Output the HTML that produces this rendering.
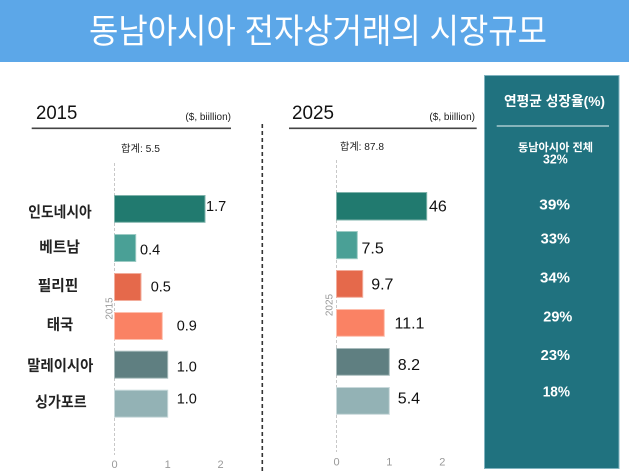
<!DOCTYPE html>
<html>
<head>
<meta charset="utf-8">
<style>
  html, body { margin:0; padding:0; background:#fff; }
  svg { display:block; }
  .k { font-family: "Liberation Sans", "Noto Sans CJK KR", sans-serif; }
  .l { font-family: "Liberation Sans", sans-serif; }
</style>
</head>
<body>
<svg width="629" height="473" viewBox="0 0 629 473" xmlns="http://www.w3.org/2000/svg">
  <rect x="0" y="0" width="629" height="473" fill="#ffffff"/>
  <!-- header -->
  <rect x="0" y="0" width="629" height="62" fill="#5ca7e8"/>
  <text class="k" x="89" y="43" font-size="34" fill="#ffffff" textLength="458" lengthAdjust="spacingAndGlyphs">동남아시아 전자상거래의 시장규모</text>

  <!-- 2015 section header -->
  <text class="l" x="36" y="119" font-size="19" fill="#111" textLength="41.3" lengthAdjust="spacingAndGlyphs">2015</text>
  <text class="l" x="231" y="120" font-size="10" fill="#222" text-anchor="end">($, biillion)</text>
  <line x1="31.7" y1="128.3" x2="231" y2="128.3" stroke="#444" stroke-width="1.6"/>

  <!-- 2025 section header -->
  <text class="l" x="292" y="119" font-size="19" fill="#111" textLength="42" lengthAdjust="spacingAndGlyphs">2025</text>
  <text class="l" x="475" y="120" font-size="10" fill="#222" text-anchor="end">($, biillion)</text>
  <line x1="289" y1="128.3" x2="476.7" y2="128.3" stroke="#444" stroke-width="1.6"/>

  <!-- divider -->
  <line x1="262.3" y1="124" x2="262.3" y2="473" stroke="#333" stroke-width="1.6" stroke-dasharray="4 3"/>

  <!-- totals -->
  <text class="k" x="121" y="152" font-size="10" fill="#222" textLength="39" lengthAdjust="spacingAndGlyphs">합계: 5.5</text>
  <text class="k" x="340" y="150" font-size="10" fill="#222" textLength="44" lengthAdjust="spacingAndGlyphs">합계: 87.8</text>

  <!-- grid lines -->
  <line x1="114.5" y1="163" x2="114.5" y2="455" stroke="#c8c8c8" stroke-width="1" stroke-dasharray="3 2"/>
  <line x1="336.5" y1="160" x2="336.5" y2="452" stroke="#c8c8c8" stroke-width="1" stroke-dasharray="3 2"/>

  <!-- category labels -->
  <g class="k" font-size="15" font-weight="bold" fill="#222">
    <text x="28.3" y="217.2" textLength="63.4" lengthAdjust="spacingAndGlyphs">인도네시아</text>
    <text x="39.3" y="252.2" textLength="40.7" lengthAdjust="spacingAndGlyphs">베트남</text>
    <text x="37.7" y="290.5" textLength="40.6" lengthAdjust="spacingAndGlyphs">필리핀</text>
    <text x="46.7" y="329.5" textLength="26.6" lengthAdjust="spacingAndGlyphs">태국</text>
    <text x="27.3" y="370.5" textLength="66" lengthAdjust="spacingAndGlyphs">말레이시아</text>
    <text x="35" y="407.2" textLength="51.7" lengthAdjust="spacingAndGlyphs">싱가포르</text>
  </g>

  <!-- left bars (2015) -->
  <g stroke-width="1">
    <rect x="114.5" y="195.5" width="90.5" height="26.8" fill="#217a6f" stroke="#7fb3ab"/>
    <rect x="114.5" y="234.5" width="21.2" height="27" fill="#4aa096" stroke="#9ccbc4"/>
    <rect x="114.5" y="273.5" width="26.5" height="27" fill="#e5694b" stroke="#f2ad9c"/>
    <rect x="114.5" y="312.5" width="47.8" height="27" fill="#fa8264" stroke="#fdbfae"/>
    <rect x="114.5" y="351.2" width="53.2" height="27" fill="#5f7f81" stroke="#a9bcbd"/>
    <rect x="114.5" y="390.2" width="53.2" height="27" fill="#93b2b5" stroke="#c9d9db"/>
  </g>

  <!-- left values -->
  <g class="l" font-size="14.5" fill="#111">
    <text x="206" y="211">1.7</text>
    <text x="140" y="254.3">0.4</text>
    <text x="150.7" y="291.7">0.5</text>
    <text x="176.7" y="330.7">0.9</text>
    <text x="176.7" y="371.7">1.0</text>
    <text x="176.7" y="403.3">1.0</text>
  </g>

  <!-- rotated year labels -->
  <text class="l" transform="translate(112.5,308.5) rotate(-90)" font-size="10" fill="#999" text-anchor="middle">2015</text>
  <text class="l" transform="translate(332.6,305) rotate(-90)" font-size="10" fill="#999" text-anchor="middle">2025</text>

  <!-- right bars (2025) -->
  <g stroke-width="1">
    <rect x="336.5" y="192.5" width="90.2" height="27.5" fill="#217a6f" stroke="#7fb3ab"/>
    <rect x="336.5" y="231.5" width="20.8" height="27.2" fill="#4aa096" stroke="#9ccbc4"/>
    <rect x="336.5" y="270.5" width="26.2" height="26.8" fill="#e5694b" stroke="#f2ad9c"/>
    <rect x="336.5" y="309.5" width="47.8" height="26.8" fill="#fa8264" stroke="#fdbfae"/>
    <rect x="336.5" y="348.5" width="52.8" height="26.8" fill="#5f7f81" stroke="#a9bcbd"/>
    <rect x="336.5" y="387.5" width="52.8" height="26.8" fill="#93b2b5" stroke="#c9d9db"/>
  </g>

  <!-- right values -->
  <g class="l" font-size="16" fill="#111">
    <text x="429" y="211.7">46</text>
    <text x="361.5" y="253.3">7.5</text>
    <text x="371.2" y="289.3">9.7</text>
    <text x="394.5" y="328.3">11.1</text>
    <text x="397.8" y="370">8.2</text>
    <text x="397.8" y="403.3">5.4</text>
  </g>

  <!-- tick labels -->
  <g class="l" font-size="11" fill="#999" text-anchor="middle">
    <text x="114.5" y="468">0</text>
    <text x="167.7" y="468">1</text>
    <text x="220.5" y="468">2</text>
    <text x="336.5" y="465.5">0</text>
    <text x="389.3" y="465.5">1</text>
    <text x="442.3" y="465.5">2</text>
  </g>

  <!-- growth panel -->
  <rect x="484.5" y="75.5" width="134.5" height="393" fill="#20727f" stroke="#80b3bf" stroke-width="1"/>
  <text class="k" x="504" y="106" font-size="14" font-weight="bold" fill="#ffffff" textLength="101" lengthAdjust="spacingAndGlyphs">연평균 성장율(%)</text>
  <line x1="496.7" y1="126" x2="609" y2="126" stroke="#a7c9cf" stroke-width="1.5"/>
  <text class="k" x="518" y="151" font-size="11" font-weight="bold" fill="#ffffff" textLength="75" lengthAdjust="spacingAndGlyphs">동남아시아 전체</text>
  <text class="l" x="543" y="163.3" font-size="12.5" font-weight="bold" fill="#ffffff" textLength="24.7" lengthAdjust="spacingAndGlyphs">32%</text>
  <g class="l" font-size="14.5" font-weight="bold" fill="#ffffff">
    <text x="539.3" y="209.3" textLength="30.7" lengthAdjust="spacingAndGlyphs">39%</text>
    <text x="540.7" y="243.3" textLength="29.3" lengthAdjust="spacingAndGlyphs">33%</text>
    <text x="540" y="282.3" textLength="30" lengthAdjust="spacingAndGlyphs">34%</text>
    <text x="543.3" y="321.7" textLength="29" lengthAdjust="spacingAndGlyphs">29%</text>
    <text x="540.7" y="360" textLength="29.3" lengthAdjust="spacingAndGlyphs">23%</text>
    <text x="542.7" y="396.7" textLength="27.3" lengthAdjust="spacingAndGlyphs">18%</text>
  </g>
</svg>
</body>
</html>
